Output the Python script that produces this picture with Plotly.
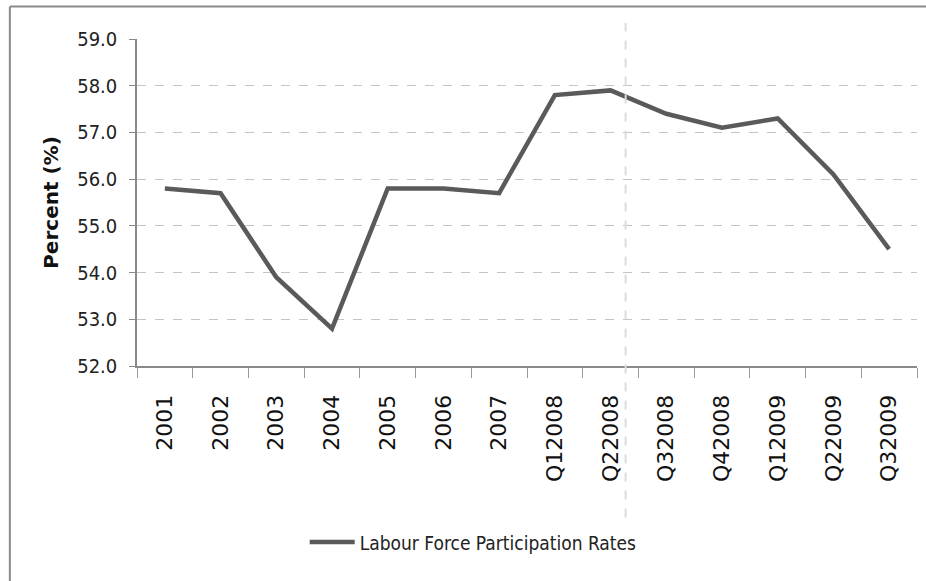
import plotly.graph_objects as go

# Period labels (annual to 2007, then quarterly)
periods = ["2001", "2002", "2003", "2004", "2005", "2006", "2007",
           "Q12008", "Q22008", "Q32008", "Q42008", "Q12009", "Q22009", "Q32009"]

# Labour force participation rate, percent
participation = [55.8, 55.7, 53.9, 52.8, 55.8, 55.8, 55.7,
                 57.8, 57.9, 57.4, 57.1, 57.3, 56.1, 54.5]

y_ticks = [52, 53, 54, 55, 56, 57, 58, 59]

NARROW = "Liberation Sans Narrow, Arial Narrow, DejaVu Sans Condensed, sans-serif"

fig = go.Figure()
fig.add_trace(go.Scatter(
    x=periods,
    y=participation,
    mode="lines",
    name="Labour Force Participation Rates",
    line=dict(color="#5a5a5a", width=4.5),
))

fig.update_layout(
    width=926,
    height=581,
    margin=dict(l=137, r=9, t=39, b=214.5),
    paper_bgcolor="white",
    plot_bgcolor="white",
    showlegend=True,
    legend=dict(
        orientation="h",
        x=0.215, xanchor="left",
        y=-0.539, yanchor="middle",
        itemwidth=45,
        font=dict(family=NARROW, size=19, color="#222222"),
        bgcolor="rgba(0,0,0,0)",
    ),
    xaxis=dict(
        type="category",
        range=[-0.5, len(periods) - 0.5],
        tickson="boundaries",
        ticks="outside",
        ticklen=10,
        tickwidth=1,
        tickcolor="#9a9a9a",
        showline=True,
        linecolor="#8a8a8a",
        linewidth=2,
        showgrid=False,
        tickangle=-90,
        tickfont=dict(family="DejaVu Sans, sans-serif", size=22, color="#111111"),
        ticklabelstandoff=18,
        automargin=False,
        fixedrange=True,
    ),
    yaxis=dict(
        range=[52, 59],
        tickvals=y_ticks,
        tickformat=".1f",
        ticks="outside",
        ticklen=6,
        tickcolor="#8a8a8a",
        showline=True,
        linecolor="#8a8a8a",
        linewidth=1.5,
        showgrid=True,
        gridcolor="#c4c4c4",
        gridwidth=1,
        griddash="dash",
        zeroline=False,
        tickfont=dict(family=NARROW, size=20, color="#222222"),
        ticklabelstandoff=8,
        title=dict(
            text="Percent (%)",
            font=dict(family="DejaVu Sans, sans-serif", size=20, color="#111111", weight="bold"),
            standoff=13,
        ),
        automargin=False,
        fixedrange=True,
    ),
)

# Divider between annual and quarterly observations
fig.add_shape(
    type="line",
    xref="x", yref="paper",
    x0=8.27, x1=8.27, y0=-0.463, y1=1.049,
    line=dict(color="#dcdcdc", width=2, dash="dash"),
)

# Chart frame (top and left edges)
fig.add_shape(type="line", xref="paper", yref="paper",
              x0=-0.163, x1=1.1, y0=1.0995, y1=1.0995,
              line=dict(color="#8a8a8a", width=2))
fig.add_shape(type="line", xref="paper", yref="paper",
              x0=-0.163, x1=-0.163, y0=1.0995, y1=-0.7,
              line=dict(color="#8a8a8a", width=2))

fig.write_html("out.html")
